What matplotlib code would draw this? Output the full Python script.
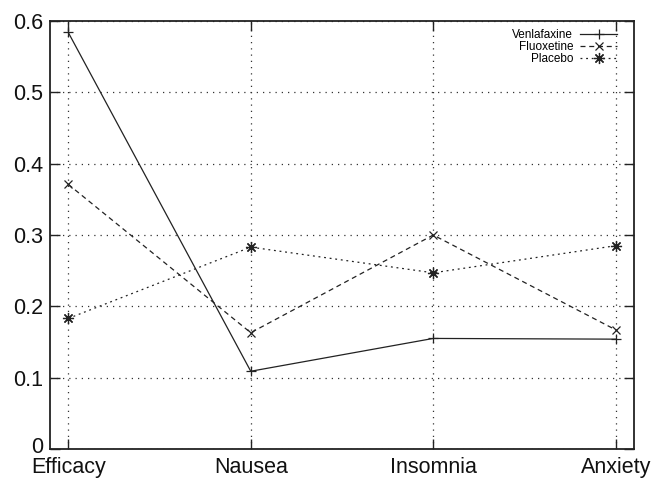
import matplotlib
matplotlib.use("Agg")
import matplotlib.pyplot as plt
from matplotlib.transforms import ScaledTranslation

categories = ["Efficacy", "Nausea", "Insomnia", "Anxiety"]
venlafaxine = [0.584, 0.109, 0.155, 0.154]
fluoxetine = [0.371, 0.163, 0.300, 0.167]
placebo = [0.183, 0.283, 0.247, 0.285]
y_ticks = [0, 0.1, 0.2, 0.3, 0.4, 0.5, 0.6]
y_labels = ["0", "0.1", "0.2", "0.3", "0.4", "0.5", "0.6"]

plt.rcParams['font.family'] = ['Liberation Sans', 'DejaVu Sans']

fig = plt.figure(figsize=(6.51, 4.78), dpi=100)
ax = fig.add_axes([50/651, 1-449/478, (634-50)/651, (449-21)/478])

x = list(range(len(categories)))
col = "#222222"
ax.plot(x, venlafaxine, color=col, lw=0.9, ls='-', marker='+', ms=7, mew=0.9, label="Venlafaxine")
ax.plot(x, fluoxetine, color=col, lw=0.9, ls=(0, (4, 3)), marker='x', ms=6, mew=0.9, label="Fluoxetine")
ax.plot(x, placebo, color=col, lw=0.9, ls=(0, (1.5, 3)), marker=(8, 2, 0), ms=8, mew=0.9, label="Placebo")

ax.set_xlim(-0.1, 3.1)
ax.set_ylim(0, 0.6)
ax.set_xticks(x)
ax.set_xticklabels(categories, fontsize=15.5)
ax.set_yticks(y_ticks)
ax.set_yticklabels(y_labels, fontsize=15.5)
ax.tick_params(axis='both', direction='in', length=7, width=1, color=col,
               top=True, right=True, labelcolor='#111111')
ax.tick_params(axis='x', pad=6)
ax.tick_params(axis='y', pad=5)
ax.grid(True, ls=(0, (1, 4)), lw=0.9, color='#333333')
for s in ax.spines.values():
    s.set_linewidth(1.3)
    s.set_color(col)

zero_lbl = ax.get_yticklabels()[0]
zero_lbl.set_transform(zero_lbl.get_transform() + ScaledTranslation(0, 3/72, fig.dpi_scale_trans))

ax.legend(loc='upper right', frameon=False, markerfirst=False, fontsize=8.5,
          handlelength=3.1, handletextpad=0.6, labelspacing=0.0,
          borderaxespad=0.3, bbox_to_anchor=(0.985, 1.0))

fig.savefig("out.png", dpi=100)
